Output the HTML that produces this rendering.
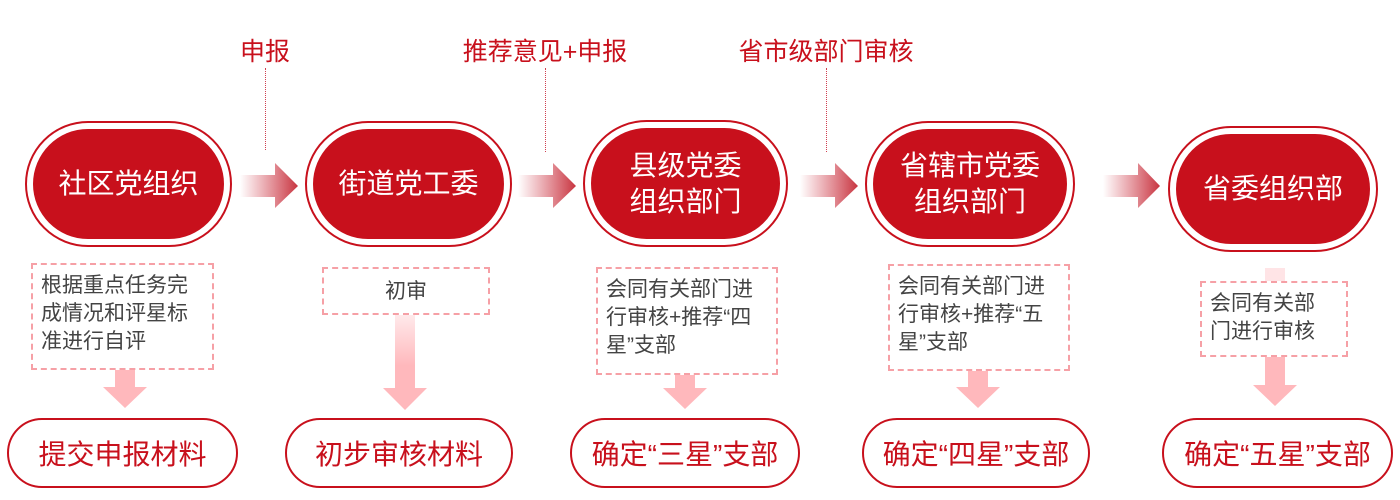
<!DOCTYPE html>
<html><head><meta charset="utf-8"><style>
body{margin:0;width:1400px;height:500px;background:#fff;position:relative;overflow:hidden;font-family:"Liberation Sans","Noto Sans CJK SC",sans-serif}
.a{position:absolute}
.outer{position:absolute;border:2px solid #c8101c;border-radius:70px;box-sizing:border-box;background:#fff}
.inner{position:absolute;left:6px;top:6px;right:6px;bottom:6px;background:#c8101c;border-radius:60px;color:#fff;font-size:28px;line-height:36px;display:flex;align-items:center;justify-content:center;text-align:center}
.top{position:absolute;color:#c8101c;font-size:25px;transform:translateX(-50%);top:32px;white-space:nowrap}
.dot{position:absolute;width:0;border-left:1.5px dotted #d04050}
.box{position:absolute;border:2px dashed #f6a0a6;box-sizing:border-box;background:#fff;color:#444;font-size:21px;line-height:28px;padding:7px 0 0 8px;white-space:nowrap}
.bot{position:absolute;border:2px solid #c8101c;border-radius:40px;box-sizing:border-box;color:#c8101c;font-size:28px;display:flex;align-items:center;justify-content:center;top:418px;height:70px;white-space:nowrap}
</style></head><body>
<svg class="a" style="left:0;top:0" width="1400" height="500">
<defs>
<linearGradient id="g" x1="0" x2="1"><stop offset="0" stop-color="#d24050" stop-opacity="0"/><stop offset="1" stop-color="#c83540"/></linearGradient>
<linearGradient id="v" x1="0" y1="0" x2="0" y2="1"><stop offset="0" stop-color="#ffb8bc" stop-opacity="0.1"/><stop offset="0.6" stop-color="#ffb8bc"/></linearGradient>
</defs>
<g fill="url(#g)">
<polygon points="240,175 275,175 275,163 298,186 275,208 275,197 240,197"/>
<polygon points="518,175 553,175 553,163 576,186 553,208 553,197 518,197"/>
<polygon points="800,175 835,175 835,163 858,186 835,208 835,197 800,197"/>
<polygon points="1103,175 1138,175 1138,163 1160,186 1138,208 1138,197 1103,197"/>
</g>
<g fill="#ffb8bc">
<polygon points="115,370 135,370 135,387 147,387 125,408 103,387 115,387"/>
<polygon points="675,375 695,375 695,388 707,388 685,409 663,388 675,388"/>
<polygon points="968,370 988,370 988,387 1000,387 978,408 956,387 968,387"/>
<polygon points="1265,356 1285,356 1285,385 1297,385 1275,406 1253,385 1265,385"/>
</g>
<polygon fill="url(#v)" points="395,300 415,300 415,388 427,388 405,410 383,388 395,388"/>
<rect x="1265" y="268" width="20" height="14" fill="#ffe4e6"/>
</svg>
<div class="top" style="left:265px">申报</div>
<div class="top" style="left:545px">推荐意见+申报</div>
<div class="top" style="left:826px">省市级部门审核</div>
<div class="dot" style="left:265px;top:68px;height:82px"></div>
<div class="dot" style="left:545px;top:68px;height:84px"></div>
<div class="dot" style="left:826px;top:68px;height:84px"></div>

<div class="outer" style="left:25px;top:121px;width:207px;height:126px"><div class="inner">社区党组织</div></div>
<div class="outer" style="left:305px;top:121px;width:207px;height:126px"><div class="inner">街道党工委</div></div>
<div class="outer" style="left:583px;top:120px;width:205px;height:127px"><div class="inner">县级党委<br>组织部门</div></div>
<div class="outer" style="left:865px;top:121px;width:210px;height:126px"><div class="inner">省辖市党委<br>组织部门</div></div>
<div class="outer" style="left:1168px;top:126px;width:210px;height:126px"><div class="inner">省委组织部</div></div>

<div class="box" style="left:31px;top:263px;width:183px;height:107px">根据重点任务完<br>成情况和评星标<br>准进行自评</div>
<div class="box" style="left:322px;top:267px;width:168px;height:48px;text-align:center;padding:9px 0 0">初审</div>
<div class="box" style="left:596px;top:267px;width:182px;height:108px">会同有关部门进<br>行审核+推荐“四<br>星”支部</div>
<div class="box" style="left:888px;top:264px;width:182px;height:107px">会同有关部门进<br>行审核+推荐“五<br>星”支部</div>
<div class="box" style="left:1200px;top:281px;width:148px;height:76px">会同有关部<br>门进行审核</div>

<div class="bot" style="left:7px;width:231px">提交申报材料</div>
<div class="bot" style="left:285px;width:228px">初步审核材料</div>
<div class="bot" style="left:570px;width:230px">确定“三星”支部</div>
<div class="bot" style="left:862px;width:228px">确定“四星”支部</div>
<div class="bot" style="left:1162px;width:231px">确定“五星”支部</div>
</body></html>
